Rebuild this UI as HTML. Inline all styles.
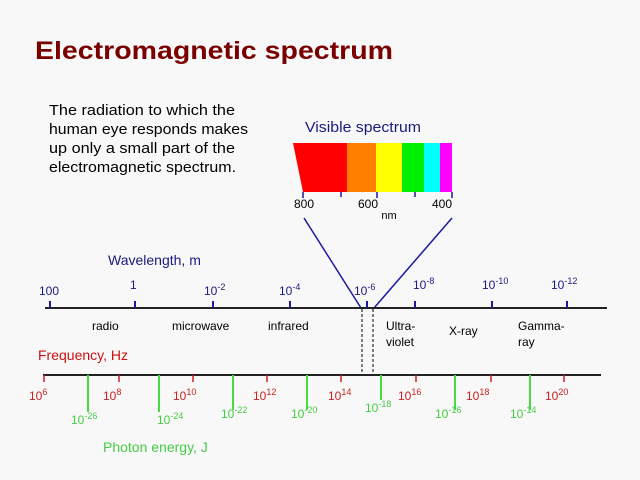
<!DOCTYPE html>
<html><head><style>body{margin:0;background:#f8f8f8}svg{display:block}</style></head>
<body>
<svg width="640" height="480" xmlns="http://www.w3.org/2000/svg" font-family="Liberation Sans, DejaVu Sans, sans-serif">
<rect width="640" height="480" fill="#f8f8f8"/>
<text x="35" y="59" font-size="25" font-weight="bold" fill="#7a0000" textLength="358" lengthAdjust="spacingAndGlyphs">Electromagnetic spectrum</text>
<g font-size="15" fill="#000">
<text x="49" y="115" textLength="186" lengthAdjust="spacingAndGlyphs">The radiation to which the</text>
<text x="49" y="134" textLength="199" lengthAdjust="spacingAndGlyphs">human eye responds makes</text>
<text x="49" y="153" textLength="186" lengthAdjust="spacingAndGlyphs">up only a small part of the</text>
<text x="49" y="172" textLength="187" lengthAdjust="spacingAndGlyphs">electromagnetic spectrum.</text>
</g>
<text x="305" y="132" font-size="15" fill="#1a1a80" textLength="116" lengthAdjust="spacingAndGlyphs">Visible spectrum</text>
<polygon points="293,143 347,143 347,192 303,192" fill="#ff0000"/>
<rect x="347" y="143" width="29" height="49" fill="#ff8000"/>
<rect x="376" y="143" width="26" height="49" fill="#ffff00"/>
<rect x="402" y="143" width="22" height="49" fill="#00ee00"/>
<rect x="424" y="143" width="16" height="49" fill="#00ffff"/>
<rect x="440" y="143" width="12" height="49" fill="#ff00ff"/>
<g stroke="#1a1aa0" stroke-width="1.5">
<line x1="303" y1="192" x2="303" y2="198"/><line x1="341" y1="192" x2="341" y2="197"/><line x1="377" y1="192" x2="377" y2="198"/><line x1="415" y1="192" x2="415" y2="197"/><line x1="452" y1="192" x2="452" y2="198"/>
<line x1="304" y1="218" x2="361" y2="308"/><line x1="452" y1="218" x2="374" y2="308"/>
</g>
<g font-size="12" fill="#000" text-anchor="middle">
<text x="304" y="208">800</text><text x="368" y="208">600</text><text x="442" y="208">400</text>
<text x="389" y="219" font-size="11">nm</text>
</g>
<text x="108" y="265" font-size="14" fill="#1a1a80">Wavelength, m</text>
<line x1="45" y1="308" x2="607" y2="308" stroke="#222" stroke-width="2"/>
<g stroke="#1a1aa0" stroke-width="2">
<line x1="50" y1="301" x2="50" y2="308"/><line x1="135" y1="301" x2="135" y2="308"/><line x1="213" y1="301" x2="213" y2="308"/><line x1="290" y1="301" x2="290" y2="308"/><line x1="367" y1="301" x2="367" y2="308"/><line x1="415" y1="301" x2="415" y2="308"/><line x1="492" y1="301" x2="492" y2="308"/><line x1="567" y1="301" x2="567" y2="308"/>
</g>
<g font-size="12" fill="#1a1a80">
<text x="39" y="295">100</text><text x="130" y="289">1</text>
<text x="204" y="295">10<tspan font-size="9" dy="-5">-2</tspan></text>
<text x="279" y="295">10<tspan font-size="9" dy="-5">-4</tspan></text>
<text x="354" y="295">10<tspan font-size="9" dy="-5">-6</tspan></text>
<text x="413" y="289">10<tspan font-size="9" dy="-5">-8</tspan></text>
<text x="482" y="289">10<tspan font-size="9" dy="-5">-10</tspan></text>
<text x="551" y="289">10<tspan font-size="9" dy="-5">-12</tspan></text>
</g>
<g font-size="12" fill="#000">
<text x="92" y="330">radio</text><text x="172" y="330">microwave</text><text x="268" y="330">infrared</text>
<text x="386" y="330">Ultra-</text><text x="386" y="346">violet</text>
<text x="449" y="335">X-ray</text><text x="518" y="330">Gamma-</text><text x="518" y="346">ray</text>
</g>
<g stroke="#000" stroke-dasharray="3,2" stroke-width="1">
<line x1="362" y1="309" x2="362" y2="374"/><line x1="373" y1="309" x2="373" y2="374"/>
</g>
<text x="38" y="360" font-size="14" fill="#cc1010">Frequency, Hz</text>
<line x1="43" y1="375" x2="601" y2="375" stroke="#222" stroke-width="2"/>
<g stroke="#cc2020" stroke-width="1.5">
<line x1="44" y1="375" x2="44" y2="382"/><line x1="119" y1="375" x2="119" y2="382"/><line x1="193" y1="375" x2="193" y2="382"/><line x1="267" y1="375" x2="267" y2="382"/><line x1="341" y1="375" x2="341" y2="382"/><line x1="416" y1="375" x2="416" y2="382"/><line x1="491" y1="375" x2="491" y2="382"/><line x1="564" y1="375" x2="564" y2="382"/>
</g>
<g stroke="#44dd44" stroke-width="2">
<line x1="88" y1="375" x2="88" y2="412"/><line x1="159" y1="375" x2="159" y2="412"/><line x1="233" y1="375" x2="233" y2="410"/><line x1="307" y1="375" x2="307" y2="410"/><line x1="381" y1="375" x2="381" y2="400"/><line x1="455" y1="375" x2="455" y2="410"/><line x1="530" y1="375" x2="530" y2="410"/>
</g>
<g font-size="12" fill="#cc2020">
<text x="29" y="400">10<tspan font-size="9" dy="-5">6</tspan></text>
<text x="103" y="400">10<tspan font-size="9" dy="-5">8</tspan></text>
<text x="173" y="400">10<tspan font-size="9" dy="-5">10</tspan></text>
<text x="253" y="400">10<tspan font-size="9" dy="-5">12</tspan></text>
<text x="328" y="400">10<tspan font-size="9" dy="-5">14</tspan></text>
<text x="398" y="400">10<tspan font-size="9" dy="-5">16</tspan></text>
<text x="466" y="400">10<tspan font-size="9" dy="-5">18</tspan></text>
<text x="545" y="400">10<tspan font-size="9" dy="-5">20</tspan></text>
</g>
<g font-size="12" fill="#44cc44">
<text x="71" y="424">10<tspan font-size="9" dy="-5">-26</tspan></text>
<text x="157" y="424">10<tspan font-size="9" dy="-5">-24</tspan></text>
<text x="221" y="418">10<tspan font-size="9" dy="-5">-22</tspan></text>
<text x="291" y="418">10<tspan font-size="9" dy="-5">-20</tspan></text>
<text x="365" y="412">10<tspan font-size="9" dy="-5">-18</tspan></text>
<text x="435" y="418">10<tspan font-size="9" dy="-5">-16</tspan></text>
<text x="510" y="418">10<tspan font-size="9" dy="-5">-14</tspan></text>
</g>
<text x="103" y="452" font-size="14" fill="#44cc44">Photon energy, J</text>
</svg>
</body></html>
